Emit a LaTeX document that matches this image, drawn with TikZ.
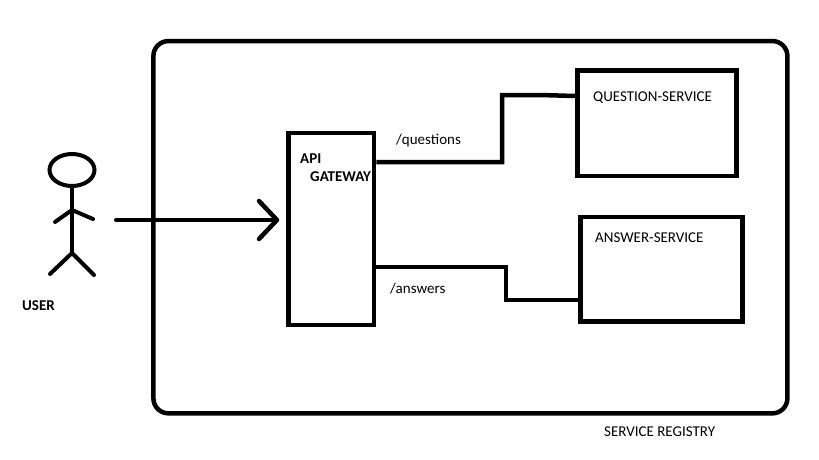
\documentclass[tikz,border=0pt]{standalone}
\usepackage{fontspec}
\setmainfont{Carlito}
\usetikzlibrary{arrows.meta,shapes.geometric}
\tikzset{
  box/.style={draw,line width=4.5pt,inner sep=0pt},
  wire/.style={draw,line width=4.5pt},
  limb/.style={draw,line width=4pt,line cap=round},
  lbl/.style={anchor=west,inner sep=0pt,font=\fontsize{15}{18}\selectfont},
  blbl/.style={lbl,font=\fontsize{15}{18}\selectfont\bfseries}
}
\begin{document}
\begin{tikzpicture}[x=1pt,y=-1pt]
\useasboundingbox (0,0) rectangle (819,460);

\node[box,rounded corners=15pt,minimum width=634pt,minimum height=372.3pt] (registry) at (470.4,227.2) {};
\node[box,minimum width=85.5pt,minimum height=192pt] (gateway) at (331.25,229) {};
\node[box,minimum width=159pt,minimum height=105.5pt] (question) at (657,123.25) {};
\node[box,minimum width=162pt,minimum height=104.5pt] (answer) at (661.5,269.25) {};

\node[blbl] (apilabel) at (300,158.5) {API};
\node[blbl] (gatewaylabel) at (310,176.5) {GATEWAY};
\node[lbl] (questionlabel) at (593,98) {QUESTION-SERVICE};
\node[lbl] (answerlabel) at (595,238) {ANSWER-SERVICE};
\node[lbl] (questionspath) at (396,140) {/questions};
\node[lbl] (answerspath) at (390,289) {/answers};
\node[blbl] (userlabel) at (22,306) {USER};
\node[lbl] (registrylabel) at (604,432) {SERVICE REGISTRY};

\node[limb,ellipse,minimum width=45pt,minimum height=32pt,inner sep=0pt] (head) at (72,170) {};
\coordinate (shoulder) at (72,210);
\coordinate (hip) at (72,253);
\coordinate (lefthand) at (55,222);
\coordinate (righthand) at (93,219);
\coordinate (leftfoot) at (50,274);
\coordinate (rightfoot) at (94,275);
\path[limb] (head) -- (hip);
\path[limb] (lefthand) -- (shoulder) -- (righthand);
\path[limb] (leftfoot) -- (hip) -- (rightfoot);

\coordinate (reqstart) at (116,220);
\path[limb,-{Straight Barb[length=18pt,width=38pt,line width=4.5pt,round]},shorten >=7pt] (reqstart) -- (gateway.west |- reqstart);

\coordinate (qbend) at (502,162);
\coordinate (qtop) at (502,95);
\coordinate (qjog) at (540,95);
\coordinate (abend) at (506,267);
\coordinate (alow) at (506,300);
\path[wire] (gateway.east |- qbend) -- (qbend) -- (qtop) -- (qjog) -- (question.west |- 540,96);
\path[wire] (gateway.east |- abend) -- (abend) -- (alow) -- (answer.west |- alow);
\end{tikzpicture}
\end{document}
